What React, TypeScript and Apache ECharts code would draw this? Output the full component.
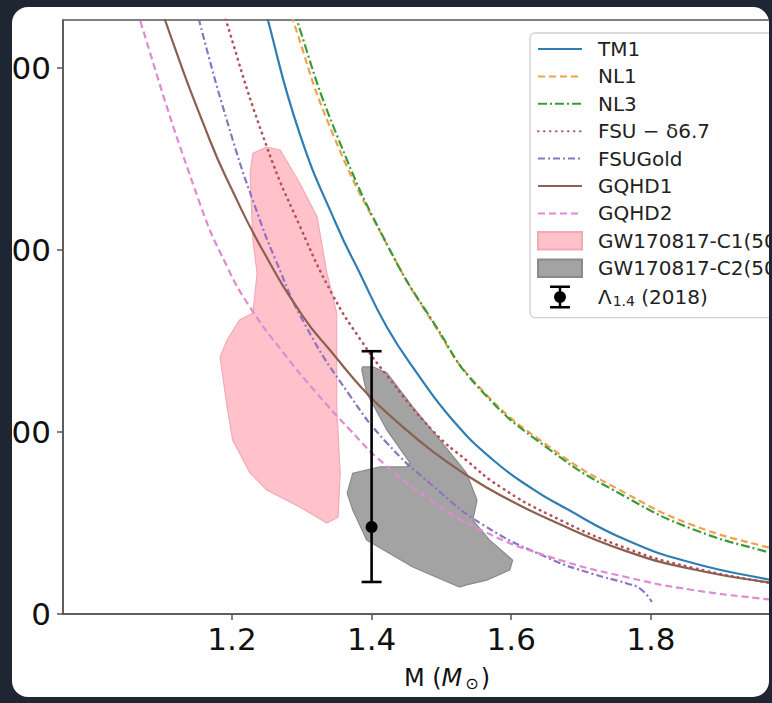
import React, { useEffect, useRef } from 'react';
import * as echarts from 'echarts';

// ---- axes / ticks ----
const massTicks = [1.2, 1.4, 1.6, 1.8];
const lambdaTicks = [0, 500, 1000, 1500];

// ---- EOS curves: [M, Lambda] ----
const TM1 = [[1.2325, 1789], [1.2515, 1632], [1.297, 1320], [1.35, 1068], [1.383, 937], [1.422, 788], [1.465, 662], [1.516, 533], [1.574, 423], [1.631, 343], [1.67, 299], [1.765, 203], [1.86, 140], [1.973, 93], [2.0, 84]];
const NL1 = [[1.263, 1790], [1.2874, 1632], [1.3447, 1318], [1.422, 1015], [1.4879, 800], [1.5509, 630], [1.6554, 458], [1.7657, 330], [1.8602, 244], [1.9733, 180], [2.0005, 169]];
const NL3 = [[1.2702, 1790], [1.2931, 1632], [1.3504, 1315], [1.4263, 1000], [1.4907, 795], [1.5523, 624], [1.6554, 451], [1.7657, 320], [1.8602, 233], [1.9733, 167], [2.0005, 156]];
const FSU67 = [[1.1685, 1795], [1.1914, 1632], [1.2501, 1283], [1.2974, 1065], [1.3447, 875], [1.3833, 756], [1.422, 655], [1.4879, 503], [1.5366, 421], [1.5838, 350], [1.6554, 272], [1.7657, 180], [1.8602, 127], [1.9733, 84], [2.0005, 76]];
const FSUGold = [[1.1327, 1797], [1.1528, 1632], [1.2014, 1301], [1.2358, 1105], [1.2616, 977], [1.3046, 795], [1.369, 600], [1.422, 470], [1.4879, 352], [1.5595, 245], [1.6554, 152], [1.717, 110], [1.7657, 84], [1.785, 69], [1.8015, 33]];
const GQHD1 = [[1.0769, 1800], [1.1041, 1632], [1.1685, 1301], [1.2014, 1160], [1.243, 1003], [1.3017, 818], [1.3447, 715], [1.3933, 606], [1.4406, 521], [1.4879, 446], [1.5366, 381], [1.5838, 327], [1.6554, 259], [1.7657, 172], [1.8602, 123], [1.9733, 85], [2.0005, 79]];
const GQHD2 = [[1.0454, 1805], [1.0683, 1632], [1.1542, 1127], [1.1929, 955], [1.2258, 843], [1.2731, 719], [1.3217, 606], [1.369, 506], [1.4163, 415], [1.4879, 309], [1.5595, 228], [1.6554, 157], [1.7657, 101], [1.8602, 66], [1.9733, 39], [2.0005, 34]];

// ---- GW170817 regions (polygon vertices) ----
const C1 = [[1.23, 1266], [1.25, 1283], [1.269, 1275], [1.297, 1184], [1.322, 1091], [1.336, 937], [1.35, 827], [1.35, 569], [1.355, 387], [1.352, 266], [1.336, 250], [1.322, 266], [1.297, 294], [1.25, 341], [1.226, 387], [1.201, 478], [1.193, 569], [1.183, 706], [1.193, 753], [1.211, 808], [1.23, 827], [1.236, 937], [1.23, 1027], [1.226, 1211]];
const C2 = [[1.387, 679], [1.402, 679], [1.422, 662], [1.459, 569], [1.498, 478], [1.536, 387], [1.551, 313], [1.545, 258], [1.569, 203], [1.602, 148], [1.598, 121], [1.565, 93], [1.536, 80], [1.526, 74], [1.459, 129], [1.393, 203], [1.373, 286], [1.365, 332], [1.373, 387], [1.412, 404], [1.45, 404], [1.455, 415], [1.422, 505], [1.393, 607], [1.386, 670]];

// ---- Lambda_1.4 (2018): [M, central, low, high] ----
const LAMBDA14 = [[1.4, 239, 88, 722]];

const FONT = 'DejaVu Sans';
const ERRBAR_ICON = 'path://M0 0H20V2.5H0Z M0 20.5H20V23H0Z M8.75 0H11.25V23H8.75Z M4 11.5A6 6 0 1 1 16 11.5A6 6 0 1 1 4 11.5Z';
const RECT_ICON = 'path://M0 0H43V17H0Z';

export default function App() {
  const ref = useRef<HTMLDivElement>(null);

  useEffect(() => {
    const chart = echarts.init(ref.current as HTMLDivElement, null, { renderer: 'svg' });

    const lineSeries = (name: string, data: number[][], color: string, type: any, width = 2.2, cap = 'butt') => ({
      name,
      type: 'line',
      data,
      symbol: 'none',
      showSymbol: false,
      smooth: 0.5,
      clip: true,
      z: 3,
      silent: true,
      lineStyle: { color, width, type, cap },
      itemStyle: { color },
      emphasis: { disabled: true },
    });

    const polySeries = (name: string, data: number[][], fill: string, stroke: string) => ({
      name,
      type: 'custom',
      data,
      encode: { x: 0, y: 1 },
      z: 2,
      silent: true,
      itemStyle: { color: fill, borderColor: stroke, borderWidth: 1 },
      renderItem: (params: any, api: any) => {
        if (params.dataIndex !== 0) return null;
        const pts = data.map((p) => api.coord(p));
        return { type: 'polygon', shape: { points: pts }, style: { fill, stroke, lineWidth: 1.2 } };
      },
    });

    const errSeries = {
      name: 'Λ1.4 (2018)',
      type: 'custom',
      data: LAMBDA14,
      encode: { x: 0, y: [1, 2, 3] },
      z: 5,
      silent: true,
      itemStyle: { color: '#000' },
      renderItem: (params: any, api: any) => {
        const x = api.value(0);
        const c = api.coord([x, api.value(1)]);
        const lo = api.coord([x, api.value(2)]);
        const hi = api.coord([x, api.value(3)]);
        const st = { stroke: '#000', lineWidth: 2.6 };
        return {
          type: 'group',
          children: [
            { type: 'line', shape: { x1: lo[0], y1: lo[1], x2: hi[0], y2: hi[1] }, style: st },
            { type: 'line', shape: { x1: lo[0] - 10, y1: lo[1], x2: lo[0] + 10, y2: lo[1] }, style: st },
            { type: 'line', shape: { x1: hi[0] - 10, y1: hi[1], x2: hi[0] + 10, y2: hi[1] }, style: st },
            { type: 'circle', shape: { cx: c[0], cy: c[1], r: 6 }, style: { fill: '#000' } },
          ],
        };
      },
    };

    const lineItem = (name: string) => ({ name, itemStyle: { opacity: 0 } });

    const option: any = {
      animation: false,
      backgroundColor: 'transparent',
      textStyle: { fontFamily: FONT },
      grid: { left: 63, top: 20, width: 768, height: 594, containLabel: false, outerBoundsMode: 'none', show: true, borderColor: '#555', borderWidth: 1.5, backgroundColor: 'transparent' },
      xAxis: {
        type: 'value',
        min: 0.958,
        max: 2.058,
        name: '{a|M (}{i|M}{s|⊙}{a|)}',
        nameLocation: 'middle',
        nameGap: 52,
        nameMoveOverlap: false,
        nameTextStyle: {
          rich: {
            a: { fontFamily: FONT, fontSize: 24, lineHeight: 24, color: '#111' },
            i: { fontFamily: FONT, fontSize: 24, lineHeight: 24, fontStyle: 'italic', color: '#111' },
            s: { fontFamily: FONT, fontSize: 16, lineHeight: 16, color: '#111', padding: [10, 2, 0, 3] },
          },
        },
        splitLine: { show: false },
        axisLine: { show: true, lineStyle: { color: '#555', width: 1.5 } },
        axisTick: { show: true, length: 6, lineStyle: { color: '#555', width: 1.5 }, customValues: massTicks },
        axisLabel: { show: true, fontFamily: FONT, fontSize: 31, color: '#111', margin: 9, customValues: massTicks, formatter: (v: number) => v.toFixed(1) },
      },
      yAxis: {
        type: 'value',
        min: 0,
        max: 1632,
        splitLine: { show: false },
        axisLine: { show: true, lineStyle: { color: '#555', width: 1.5 } },
        axisTick: { show: true, length: 6, lineStyle: { color: '#555', width: 1.5 }, customValues: lambdaTicks },
        axisLabel: { show: true, fontFamily: FONT, fontSize: 31, color: '#111', margin: 12, customValues: lambdaTicks, formatter: (v: number) => String(v) },
      },
      legend: {
        orient: 'vertical',
        left: 530,
        top: 33,
        selectedMode: false,
        backgroundColor: '#fff',
        borderColor: '#d0d0d0',
        borderWidth: 1.3,
        borderRadius: 5,
        padding: [6, 12, 9, 7],
        itemWidth: 44,
        itemHeight: 23,
        itemGap: 7.4,
        textStyle: {
          fontFamily: FONT,
          fontSize: 20,
          lineHeight: 20,
          color: '#222',
          padding: [0, 0, 0, 11],
          rich: {
            g: { fontFamily: FONT, fontSize: 20, lineHeight: 20, color: '#222' },
            sub: { fontFamily: FONT, fontSize: 14, lineHeight: 14, color: '#222', padding: [8, 0, 0, 1] },
          },
        },
        formatter: (name: string) => (name === 'Λ1.4 (2018)' ? '{g|Λ}{sub|1.4}{g| (2018)}' : name),
        data: [
          lineItem('TM1'),
          lineItem('NL1'),
          lineItem('NL3'),
          lineItem('FSU − δ6.7'),
          lineItem('FSUGold'),
          lineItem('GQHD1'),
          lineItem('GQHD2'),
          { name: 'GW170817-C1(50%)', icon: RECT_ICON },
          { name: 'GW170817-C2(50%)', icon: RECT_ICON },
          { name: 'Λ1.4 (2018)', icon: ERRBAR_ICON },
        ],
      },
      series: [
        polySeries('GW170817-C1(50%)', C1, '#ffc2cb', '#f2aab6'),
        polySeries('GW170817-C2(50%)', C2, '#a3a3a3', '#8a8a8a'),
        lineSeries('TM1', TM1, '#2f7db3', 'solid'),
        lineSeries('NL1', NL1, '#f0a24a', [7, 4]),
        lineSeries('NL3', NL3, '#3a9a3a', [9, 3, 2, 3]),
        lineSeries('FSU − δ6.7', FSU67, '#b5505a', [0.5, 5.5], 2.6, 'round'),
        lineSeries('FSUGold', FSUGold, '#8f72c2', [7, 3, 2, 3]),
        lineSeries('GQHD1', GQHD1, '#8c5f50', 'solid'),
        lineSeries('GQHD2', GQHD2, '#df8ad2', [7, 4]),
        errSeries,
      ],
    };

    chart.setOption(option);
    return () => chart.dispose();
  }, []);

  return (
    <div style={{ position: 'fixed', left: 0, top: 0, width: 772, height: 703, background: '#1f2633', overflow: 'hidden' }}>
      <div style={{ position: 'absolute', left: 12, top: 7, width: 757, height: 690, background: '#ffffff', borderRadius: 16, overflow: 'hidden' }}>
        <div ref={ref} style={{ position: 'absolute', left: -12, top: -7, width: 860, height: 703 }} />
      </div>
    </div>
  );
}
